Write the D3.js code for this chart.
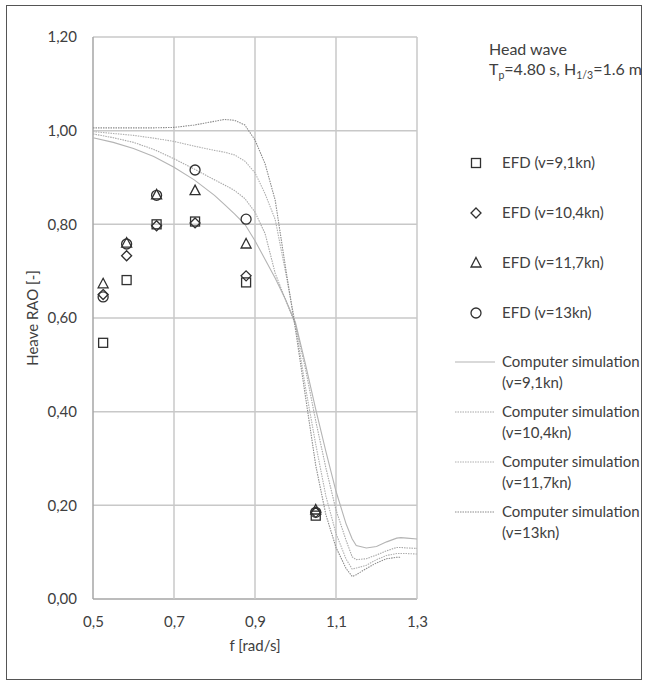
<!DOCTYPE html>
<html><head><meta charset="utf-8">
<script src="https://cdn.jsdelivr.net/npm/d3@7/dist/d3.min.js"></script>
<style>
html,body{margin:0;padding:0;background:#fff;}
text{font-family:Lato,"Liberation Sans",sans-serif;fill:#404040;}
</style></head>
<body>
<svg id="c" width="649" height="686"></svg>
<script>
// ---------- data ----------
const efdFreq = [0.525, 0.583, 0.657, 0.752, 0.878, 1.05];
const efd91  = [0.547, 0.681, 0.800, 0.806, 0.676, 0.178];
const efd104 = [0.650, 0.733, 0.797, 0.803, 0.690, 0.185];
const efd117 = [0.673, 0.760, 0.863, 0.872, 0.758, 0.190];
const efd13  = [0.645, 0.758, 0.862, 0.916, 0.811, 0.185];

const simFreq = [0.5,0.55,0.6,0.65,0.7,0.75,0.8,0.825,0.85,0.875,0.9,0.925,0.95,0.975,1.0,1.025,1.05,1.075,1.1,1.125,1.14,1.15,1.175,1.2,1.225,1.25,1.26,1.275,1.3];
const sim91  = [0.985,0.975,0.962,0.945,0.922,0.895,0.862,0.842,0.822,0.800,0.765,0.725,0.685,0.640,0.590,0.500,0.405,0.315,0.230,0.160,0.128,0.114,0.109,0.112,0.122,0.130,0.131,0.130,0.128];
const sim104 = [0.993,0.985,0.975,0.960,0.940,0.918,0.895,0.884,0.872,0.855,0.826,0.780,0.695,0.640,0.585,0.490,0.380,0.280,0.190,0.125,0.090,0.084,0.086,0.094,0.103,0.110,0.110,0.109,0.108];
const sim117 = [0.998,0.994,0.990,0.984,0.977,0.967,0.958,0.954,0.948,0.935,0.910,0.865,0.810,0.700,0.585,0.450,0.330,0.220,0.140,0.085,0.064,0.066,0.072,0.084,0.093,0.097,0.097,0.097,0.096];
const sim13  = [1.006,1.006,1.006,1.006,1.007,1.012,1.020,1.024,1.022,1.012,0.980,0.929,0.851,0.710,0.575,0.430,0.285,0.180,0.110,0.065,0.048,0.052,0.065,0.077,0.086,0.089,0.089,null,null];

const xTicks = [0.5,0.7,0.9,1.1,1.3];
const yTicks = [0,0.2,0.4,0.6,0.8,1.0,1.2];

const efdSeries = [
  {name:"EFD (v=9,1kn)", vals:efd91, sym:"square"},
  {name:"EFD (v=10,4kn)", vals:efd104, sym:"diamond"},
  {name:"EFD (v=11,7kn)", vals:efd117, sym:"triangle"},
  {name:"EFD (v=13kn)", vals:efd13, sym:"circle"}
];
const simSeries = [
  {name:["Computer simulation","(v=9,1kn)"], vals:sim91, color:"#b4b4b4", dash:null},
  {name:["Computer simulation","(v=10,4kn)"], vals:sim104, color:"#a8a8a8", dash:"1.5,1"},
  {name:["Computer simulation","(v=11,7kn)"], vals:sim117, color:"#b0b0b0", dash:"1.5,1"},
  {name:["Computer simulation","(v=13kn)"], vals:sim13, color:"#8c8c8c", dash:"1.5,1"}
];

// ---------- layout ----------
const svg = d3.select("#c");
const L=93, R=417, T=37, B=599;
const x = d3.scaleLinear().domain([0.5,1.3]).range([L,R]);
const y = d3.scaleLinear().domain([0,1.2]).range([B,T]);
const fmtX = d => d3.format(".1f")(d).replace(".",",");
const fmtY = d => d3.format(".2f")(d).replace(".",",");
const TXT = "#404040";

// outer frame
svg.append("rect").attr("x",6.5).attr("y",5.5).attr("width",635).attr("height",674)
  .attr("fill","none").attr("stroke","#555").attr("stroke-width",1);

// grid
const g = svg.append("g");
g.selectAll("line.h").data(yTicks).join("line")
  .attr("x1",L).attr("x2",R).attr("y1",d=>y(d)).attr("y2",d=>y(d))
  .attr("stroke",d=>d===0?"#a6a6a6":"#c8c8c8").attr("stroke-width",1.5);
g.selectAll("line.v").data(xTicks).join("line")
  .attr("y1",T).attr("y2",B).attr("x1",d=>x(d)).attr("x2",d=>x(d))
  .attr("stroke",d=>d===0.5?"#a6a6a6":"#c8c8c8").attr("stroke-width",1.5);

// axes labels via d3 axes (no lines)
const ax = svg.append("g").attr("transform",`translate(0,${B})`)
  .call(d3.axisBottom(x).tickValues(xTicks).tickFormat(fmtX).tickSize(0).tickPadding(17));
const ay = svg.append("g").attr("transform",`translate(${L},0)`)
  .call(d3.axisLeft(y).tickValues(yTicks).tickFormat(fmtY).tickSize(0).tickPadding(16));
[ax,ay].forEach(a=>{a.select(".domain").remove();
  a.selectAll("text").style("font-family","Lato, sans-serif").style("font-size","15px").style("fill",TXT);});

svg.append("text").attr("x",(L+R)/2).attr("y",651).attr("text-anchor","middle")
  .style("font-size","15px").style("fill",TXT).text("f [rad/s]");
svg.append("text").attr("transform",`translate(38,${(T+B)/2}) rotate(-90)`).attr("text-anchor","middle")
  .style("font-size","15px").style("fill",TXT).text("Heave RAO [-]");

// simulation lines
const line = d3.line().defined(d=>d[1]!=null).x(d=>x(d[0])).y(d=>y(d[1]));
simSeries.forEach(s=>{
  svg.append("path").datum(simFreq.map((f,i)=>[f,s.vals[i]]))
    .attr("d",line).attr("fill","none").attr("stroke",s.color).attr("stroke-width",1.1)
    .attr("stroke-dasharray",s.dash);
});

// markers
function marker(sel, sym, cx, cy){
  const c="#303030", w=1.3;
  if(sym==="square") sel.append("rect").attr("x",cx-4.5).attr("y",cy-4.5).attr("width",9).attr("height",9)
      .attr("fill","none").attr("stroke",c).attr("stroke-width",w);
  if(sym==="diamond") sel.append("path").attr("d",`M${cx},${cy-5}L${cx+5},${cy}L${cx},${cy+5}L${cx-5},${cy}Z`)
      .attr("fill","none").attr("stroke",c).attr("stroke-width",w);
  if(sym==="triangle") sel.append("path").attr("d",`M${cx},${cy-5.5}L${cx+5},${cy+4}L${cx-5},${cy+4}Z`)
      .attr("fill","none").attr("stroke",c).attr("stroke-width",w);
  if(sym==="circle") sel.append("circle").attr("cx",cx).attr("cy",cy).attr("r",5)
      .attr("fill","none").attr("stroke",c).attr("stroke-width",w);
}
efdSeries.forEach(s=>{
  const gg=svg.append("g");
  efdFreq.forEach((f,i)=>marker(gg,s.sym,x(f),y(s.vals[i])));
});

// legend
svg.append("text").attr("x",489).attr("y",55).style("font-size","16px").style("fill",TXT).text("Head wave");
const t2 = svg.append("text").attr("x",489).attr("y",75).style("font-size","16px").style("fill",TXT);
t2.append("tspan").text("T");
t2.append("tspan").attr("dy",4).style("font-size","10.5px").text("p");
t2.append("tspan").attr("dy",-4).text("=4.80 s, H");
t2.append("tspan").attr("dy",4).style("font-size","10.5px").text("1/3");
t2.append("tspan").attr("dy",-4).text("=1.6 m");

efdSeries.forEach((s,i)=>{
  const cy=163+i*50;
  marker(svg,s.sym,476,cy);
  svg.append("text").attr("x",502).attr("y",cy+5).style("font-size","15px").style("fill",TXT).text(s.name);
});
simSeries.forEach((s,i)=>{
  const cy=362+i*50;
  svg.append("line").attr("x1",455).attr("x2",495).attr("y1",cy).attr("y2",cy)
    .attr("stroke",s.color).attr("stroke-width",1.1).attr("stroke-dasharray",s.dash);
  svg.append("text").attr("x",502).attr("y",cy+5).style("font-size","15px").style("fill",TXT).text(s.name[0]);
  svg.append("text").attr("x",502).attr("y",cy+26).style("font-size","15px").style("fill",TXT).text(s.name[1]);
});
</script>
</body></html>
